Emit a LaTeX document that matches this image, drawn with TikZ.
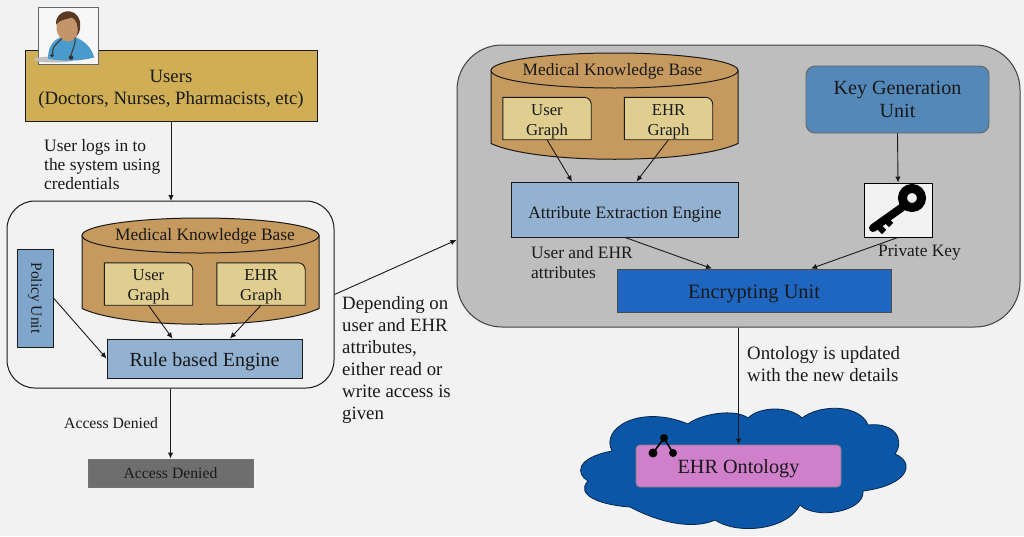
\documentclass[tikz,border=0pt]{standalone}
\usepackage{fontspec}
\setmainfont{Liberation Serif}
\usetikzlibrary{arrows.meta}
\definecolor{pagebg}{HTML}{F2F2F2}
\definecolor{usergold}{HTML}{CFAE55}
\definecolor{kbbrown}{HTML}{C69A5E}
\definecolor{graphtan}{HTML}{DFCE90}
\definecolor{engineblue}{HTML}{93B1D1}
\definecolor{policyblue}{HTML}{80A6CB}
\definecolor{keyblue}{HTML}{5388B9}
\definecolor{encblue}{HTML}{1F66C0}
\definecolor{cloudblue}{HTML}{0C56A8}
\definecolor{ontopink}{HTML}{D07FCB}
\definecolor{framegrey}{HTML}{BEBEBE}
\definecolor{deniedgrey}{HTML}{6E6E6E}
\definecolor{linedark}{HTML}{1A1A1A}
\definecolor{skintone}{HTML}{C4956A}
\definecolor{hairtone}{HTML}{5A3A22}
\definecolor{coatblue}{HTML}{4A9BCB}
\newcommand{\fs}[1]{\fontsize{#1}{#1}\selectfont}
\newcommand{\lowered}[2]{\raisebox{-#1}[\height][\depth]{#2}}
\tikzset{
  boxnode/.style={draw=linedark, line width=0.9pt, inner sep=0pt, align=center, text=black!90, text depth=0pt},
  frameleft/.style={draw=linedark, line width=1pt, rounded corners=28pt, inner sep=0pt},
  frameright/.style={draw=black!75, line width=1pt, fill=framegrey, rounded corners=45pt, inner sep=0pt},
  graphfrm/.style={minimum width=88pt, minimum height=42pt, inner sep=0pt},
  graphtxt/.style={inner sep=0pt, align=center, font=\fs{16.7}, text=black!90},
  note/.style={inner sep=0pt, align=left, anchor=west, text=black!90},
  flow/.style={draw=linedark, line width=0.9pt, -{Latex[length=6pt,width=5.5pt]}},
}
% name, centre, text
\newcommand{\graphbox}[3]{
  \node (#1) [graphfrm] at (#2) {};
  \draw[draw=linedark, line width=0.9pt, fill=graphtan] (#1.south west) -- (#1.north west) [rounded corners=7pt] -- (#1.north east) [sharp corners] -- (#1.south east) -- cycle;
  \node (#1txt) [graphtxt] at ([yshift=-3pt]#1) {#3};
}
% name, left, right, ellipse centre y, title centre x, title
\newcommand{\kbase}[6]{
  \draw[draw=linedark, line width=1pt, fill=kbbrown] (#2,#4) -- (#2,#4+73) .. controls (#2+45,#4+94) and (#3-45,#4+94) .. (#3,#4+73) -- (#3,#4) -- cycle;
  \draw[draw=linedark, line width=1pt, fill=kbbrown] ({(#2+#3)/2},#4) ellipse [x radius={(#3-#2)/2}, y radius=17.5];
  \node (#1) [inner sep=0pt, font=\fs{17.4}, text=black!90] at (#5,#4+0.5) {#6};
}
\begin{document}
\begin{tikzpicture}[x=1pt, y=-1pt]
\useasboundingbox[fill=pagebg] (0,0) rectangle (1024,536);
% users
\node (users) [boxnode, fill=usergold, minimum width=292pt, minimum height=71pt, font=\fs{18.8}] at (171,85.5) {\lowered{2pt}{Users}\\[3.2pt]\lowered{2pt}{(Doctors, Nurses, Pharmacists, etc)}};
\node (doctor) [draw=black!60, line width=0.8pt, fill=white!97!black, minimum width=60pt, minimum height=57pt, inner sep=0pt] at (68,35.5) {};
\begin{scope}[shift={(68,35.5)}] % doctor icon
\fill[black!25] (-14,24) ellipse [x radius=20, y radius=3];
\fill[coatblue] (-20,23) .. controls (-20,8) and (-12,3) .. (-5,1) -- (6,1) .. controls (16,5) and (24,12) .. (26,22) .. controls (12,26) and (-8,26) .. (-20,23) -- cycle;
\fill[skintone] (0,-8) ellipse [x radius=11.5, y radius=14];
\fill[hairtone] (-12,-11) .. controls (-13,-26) and (8,-30) .. (12,-14) .. controls (13,-6) and (11,-2) .. (9,0) .. controls (11,-10) and (8,-16) .. (4,-18) .. controls (-2,-16) and (-8,-16) .. (-12,-11) -- cycle;
\draw[black!75, line width=1.2pt] (-6,3) .. controls (-14,10) and (-17,14) .. (-15,19);
\draw[black!75, line width=1.2pt] (7,2) .. controls (8,10) and (4,14) .. (3,20);
\fill[black!80] (3,22) circle [radius=2.3];
\fill[black!80] (-16,20) circle [radius=1.8];
\end{scope}
\draw[flow] (users.south) -- (users.south |- 0,201);
\node (login) [note, font=\fs{17.4}] at (44,164.5) {User logs in to\\[2pt]the system using\\[2pt]credentials};
% left block
\node (leftframe) [frameleft, minimum width=327pt, minimum height=187pt] at (170.5,294.5) {};
\kbase{kbleft}{82}{319}{235.5}{205}{Medical Knowledge Base}
\graphbox{usergl}{148.5,284}{User\\[3.3pt]Graph}
\graphbox{ehrgl}{261,284}{EHR\\[3.3pt]Graph}
\node (rule) [boxnode, fill=engineblue, minimum width=195pt, minimum height=39pt, font=\fs{20}] at (204.5,358.5) {\lowered{1pt}{Rule based Engine}};
\node (policy) [boxnode, fill=policyblue, minimum width=36pt, minimum height=98pt] at (35,298) {};
\node (policytxt) [rotate=-90, inner sep=0pt, font=\fs{15.5}, text=black!90] at (35,298) {Policy Unit};
\draw[flow] (usergl.south) -- ([xshift=24pt]usergl.south |- rule.north);
\draw[flow] (ehrgl.south) -- ([xshift=-31pt]ehrgl.south |- rule.north);
\draw[flow] (policy.east) -- (rule.west);
% denied
\node (denied) [boxnode, draw=black!55, fill=deniedgrey, minimum width=165pt, minimum height=28pt, font=\fs{15.7}] at (170.5,473) {Access Denied};
\draw[flow] (leftframe.south) -- (denied.north);
\node (deniedlbl) [note, font=\fs{15.7}] at (64,423) {Access Denied};
% right block
\node (rightframe) [frameright, minimum width=563pt, minimum height=282pt] at (738.5,186) {};
\draw[flow] (leftframe.east) -- ([yshift=-54pt]rightframe.west);
\node (depend) [note, font=\fs{18.8}] at (342,360) {Depending on\\[3.2pt]user and EHR\\[3.2pt]attributes,\\[3.2pt]either read or\\[3.2pt]write access is\\[3.2pt]given};
\kbase{kbright}{491}{738}{70.5}{612.5}{Medical Knowledge Base}
\graphbox{usergr}{547,118.5}{User\\[3.3pt]Graph}
\graphbox{ehrgr}{668.5,118.5}{EHR\\[3.3pt]Graph}
\node (attr) [boxnode, fill=engineblue, minimum width=227pt, minimum height=55pt, font=\fs{17.4}] at (625,209.5) {\lowered{2.5pt}{Attribute Extraction Engine}};
\node (keygen) [boxnode, draw=black!60, fill=keyblue, rounded corners=9pt, minimum width=183pt, minimum height=67pt, font=\fs{20.1}] at (897.5,99.5) {Key Generation\\[3pt]Unit};
\node (keybox) [boxnode, draw=black, fill=white!95!black, minimum width=68pt, minimum height=54pt] at (898,210) {};
\begin{scope}[shift={(898,210)}] % key icon
\draw[black, line width=9pt] (14,-12) circle [radius=9.5];
\draw[black, line width=8pt, line cap=round] (6,-4) -- (-25,18);
\draw[black, line width=6pt] (-14,8) -- (-7,15);
\draw[black, line width=6pt] (-22,14) -- (-14,22);
\end{scope}
\node (enc) [boxnode, draw=black!70, fill=encblue, minimum width=274pt, minimum height=43pt, font=\fs{20.4}] at (754,290.5) {\lowered{1.5pt}{Encrypting Unit}};
\draw[flow] (usergr.south) -- ([xshift=25pt]usergr.south |- attr.north);
\draw[flow] (ehrgr.south) -- ([xshift=-32pt]ehrgr.south |- attr.north);
\draw[flow] (keygen.south) -- (keybox.north);
\draw[flow] (attr.south) -- ([xshift=-42pt]enc.north);
\draw[flow] (keybox.south) -- ([xshift=57pt]enc.north);
\node (attrlbl) [note, font=\fs{17.4}] at (531,263) {User and EHR\\[2.6pt]attributes};
\node (keylbl) [note, font=\fs{17.4}] at (878,253) {Private Key};
% ontology
\draw[draw=black!55!cloudblue, line width=0.8pt, fill=cloudblue] (588,481) .. controls (576,474) and (575,458) .. (612,451) .. controls (600,428) and (640,404) .. (688,424) .. controls (700,414) and (735,408) .. (748,418) .. controls (760,406) and (790,406) .. (802,418) .. controls (820,404) and (860,404) .. (868,425) .. controls (895,422) and (905,440) .. (895,454) .. controls (915,462) and (910,485) .. (863,491) .. controls (865,512) and (815,520) .. (800,505) .. controls (785,532) and (735,534) .. (715,520) .. controls (700,527) and (670,528) .. (630,507) .. controls (600,505) and (575,495) .. cycle;
\node (onto) [draw=black!50, line width=0.8pt, fill=ontopink, rounded corners=4pt, minimum width=205pt, minimum height=42pt, inner sep=0pt, font=\fs{20.2}, text=black!90, text depth=0pt] at (738.5,466) {EHR Ontology};
\draw[black, line width=1.6pt] (653,453) -- (664,438) -- (673,453);
\fill[black] (664,438) circle [radius=4] (653,453) circle [radius=4.5] (673,453) circle [radius=4];
\draw[flow] (rightframe.south) -- (onto.north);
\node (ontolbl) [note, font=\fs{18.85}] at (747,364.5) {Ontology is updated\\[3.2pt]with the new details};
\end{tikzpicture}
\end{document}
